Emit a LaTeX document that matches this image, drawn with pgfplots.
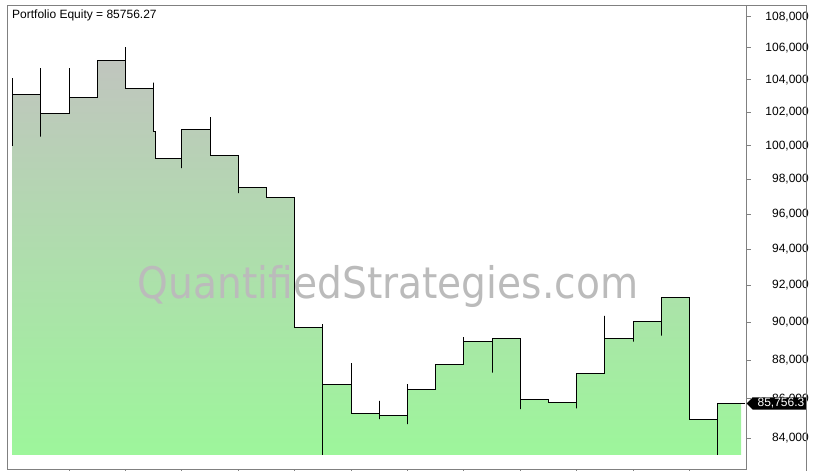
\documentclass[border=0pt]{standalone}
\usepackage{pgfplots}
\pgfplotsset{compat=1.18}
\usepackage{fontspec}
\setmainfont{Liberation Sans}
\newfontfamily\wmfont[FakeStretch=0.9]{DejaVu Sans}

\definecolor{fillTop}{RGB}{192,197,190}
\definecolor{fillBot}{RGB}{157,246,155}
\definecolor{frameGray}{RGB}{128,128,128}
\definecolor{wmGray}{RGB}{187,187,187}

\begin{document}
\begin{tikzpicture}
\path[use as bounding box] (0pt,0pt) rectangle (819pt,471pt);

% equity in thousands of dollars, log scale
\begin{axis}[
  at={(7.3pt,1.7pt)}, anchor=south west,
  scale only axis, width=739.4pt, height=464pt,
  xmin=-0.1915, xmax=26.028,
  ymode=log, ymin=82.453, ymax=108.737,
  axis line style={frameGray, line width=1pt},
  tick style={frameGray, line width=1pt},
  tick align=outside, major tick length=4pt,
  xtick pos=bottom, ytick pos=right,
  xtick={2,4,6,8,10,12,14,16,18,20,22,24}, xticklabels={},
  ytick={84,86,88,90,92,94,96,98,100,102,104,106,108},
  yticklabels={{84,000},{86,000},{88,000},{90,000},{92,000},{94,000},{96,000},{98,000},{100,000},{102,000},{104,000},{106,000},{108,000}},
  yminorticks=false,
  yticklabel style={anchor=east, inner sep=0pt, xshift=58.3pt, font=\fontsize{12}{14}\selectfont},
]

% equity at each bar close (area down to the lowest low)
\addplot[draw=none, top color=fillTop, bottom color=fillBot] coordinates {
(0,83.166) (0,103.116)
(1,103.116) (1,101.955) (2,101.955) (2,102.908) (3,102.908) (3,105.184)
(4,105.184) (4,103.486) (5,103.486) (5,100.842) (5.06,100.842) (5.06,99.255)
(6,99.255) (6,100.944) (7,100.944) (7,99.409) (8,99.409) (8,97.554)
(9,97.554) (9,96.974) (10,96.974) (10,89.740) (11,89.740) (11,86.740)
(12,86.740) (12,85.253) (13,85.253) (13,85.151) (14,85.151) (14,86.481)
(15,86.481) (15,87.780) (16,87.780) (16,88.994) (17,88.994) (17,89.153)
(18,89.153) (18,85.967) (19,85.967) (19,85.814) (20,85.814) (20,87.311)
(21,87.311) (21,89.132) (22,89.132) (22,90.062) (23,90.062) (23,91.360)
(24,91.360) (24,84.950) (25,84.950) (25,85.75627)
(25.83,85.75627) (25.83,83.166)
};

\node[anchor=base, text=wmGray, inner sep=0pt,
  font=\wmfont\fontsize{43.5}{50}\selectfont] at (axis cs:13.31,91.267) {QuantifiedStrategies.com};

% equity line with intrabar swings
\addplot[black, line width=1pt] coordinates {
(0,100.000) (0,104.105) (0,103.116)
(1,103.116) (1,104.728) (1,100.542) (1,101.955)
(2,101.955) (2,104.728) (2,102.908)
(3,102.908) (3,105.184)
(4,105.184) (4,106.047) (4,103.486)
(5,103.486) (5,103.832) (5,100.842) (5.06,100.842) (5.06,99.255)
(6,99.255) (6,98.665) (6,100.944)
(7,100.944) (7,101.712) (7,99.409)
(8,99.409) (8,97.205) (8,97.554)
(9,97.554) (9,96.974)
(10,96.974) (10,89.740)
(11,89.740) (11,89.900) (11,83.166) (11,86.740)
(12,86.740) (12,87.833) (12,85.253)
(13,85.253) (13,85.880) (13,84.948) (13,85.151)
(14,85.151) (14,84.695) (14,86.740) (14,86.481)
(15,86.481) (15,87.780)
(16,87.780) (16,89.206) (16,88.994)
(17,88.994) (17,87.342) (17,89.153)
(18,89.153) (18,85.456) (18,85.967)
(19,85.967) (19,85.814)
(20,85.814) (20,85.507) (20,87.311)
(21,87.311) (21,90.347) (21,89.132)
(22,89.132) (22,88.973) (22,90.062)
(23,90.062) (23,89.291) (23,91.360)
(24,91.360) (24,84.950)
(25,84.950) (25,83.166) (25,85.75627)
(25.97,85.75627)
};

\coordinate (tagtip) at (axis cs:26.028,85.75627);
\end{axis}

% last value tag
\fill[black] (tagtip) -- ++(6pt,6.2pt) -- ++(54pt,0pt) -- ++(0pt,-12.4pt) -- ++(-54pt,0pt) -- cycle;
\node[anchor=west, text=white, inner sep=0pt, font=\fontsize{12}{14}\selectfont]
  at ([xshift=10.7pt]tagtip) {85,756.3};

% outer frame
\draw[frameGray, line width=1pt] (746.7pt,465.7pt) -- (806.7pt,465.7pt) -- (806.7pt,0pt);

\node[anchor=base west, inner sep=0pt, font=\fontsize{12}{14}\selectfont]
  at (12pt,452.5pt) {Portfolio Equity = 85756.27};
\end{tikzpicture}
\end{document}
